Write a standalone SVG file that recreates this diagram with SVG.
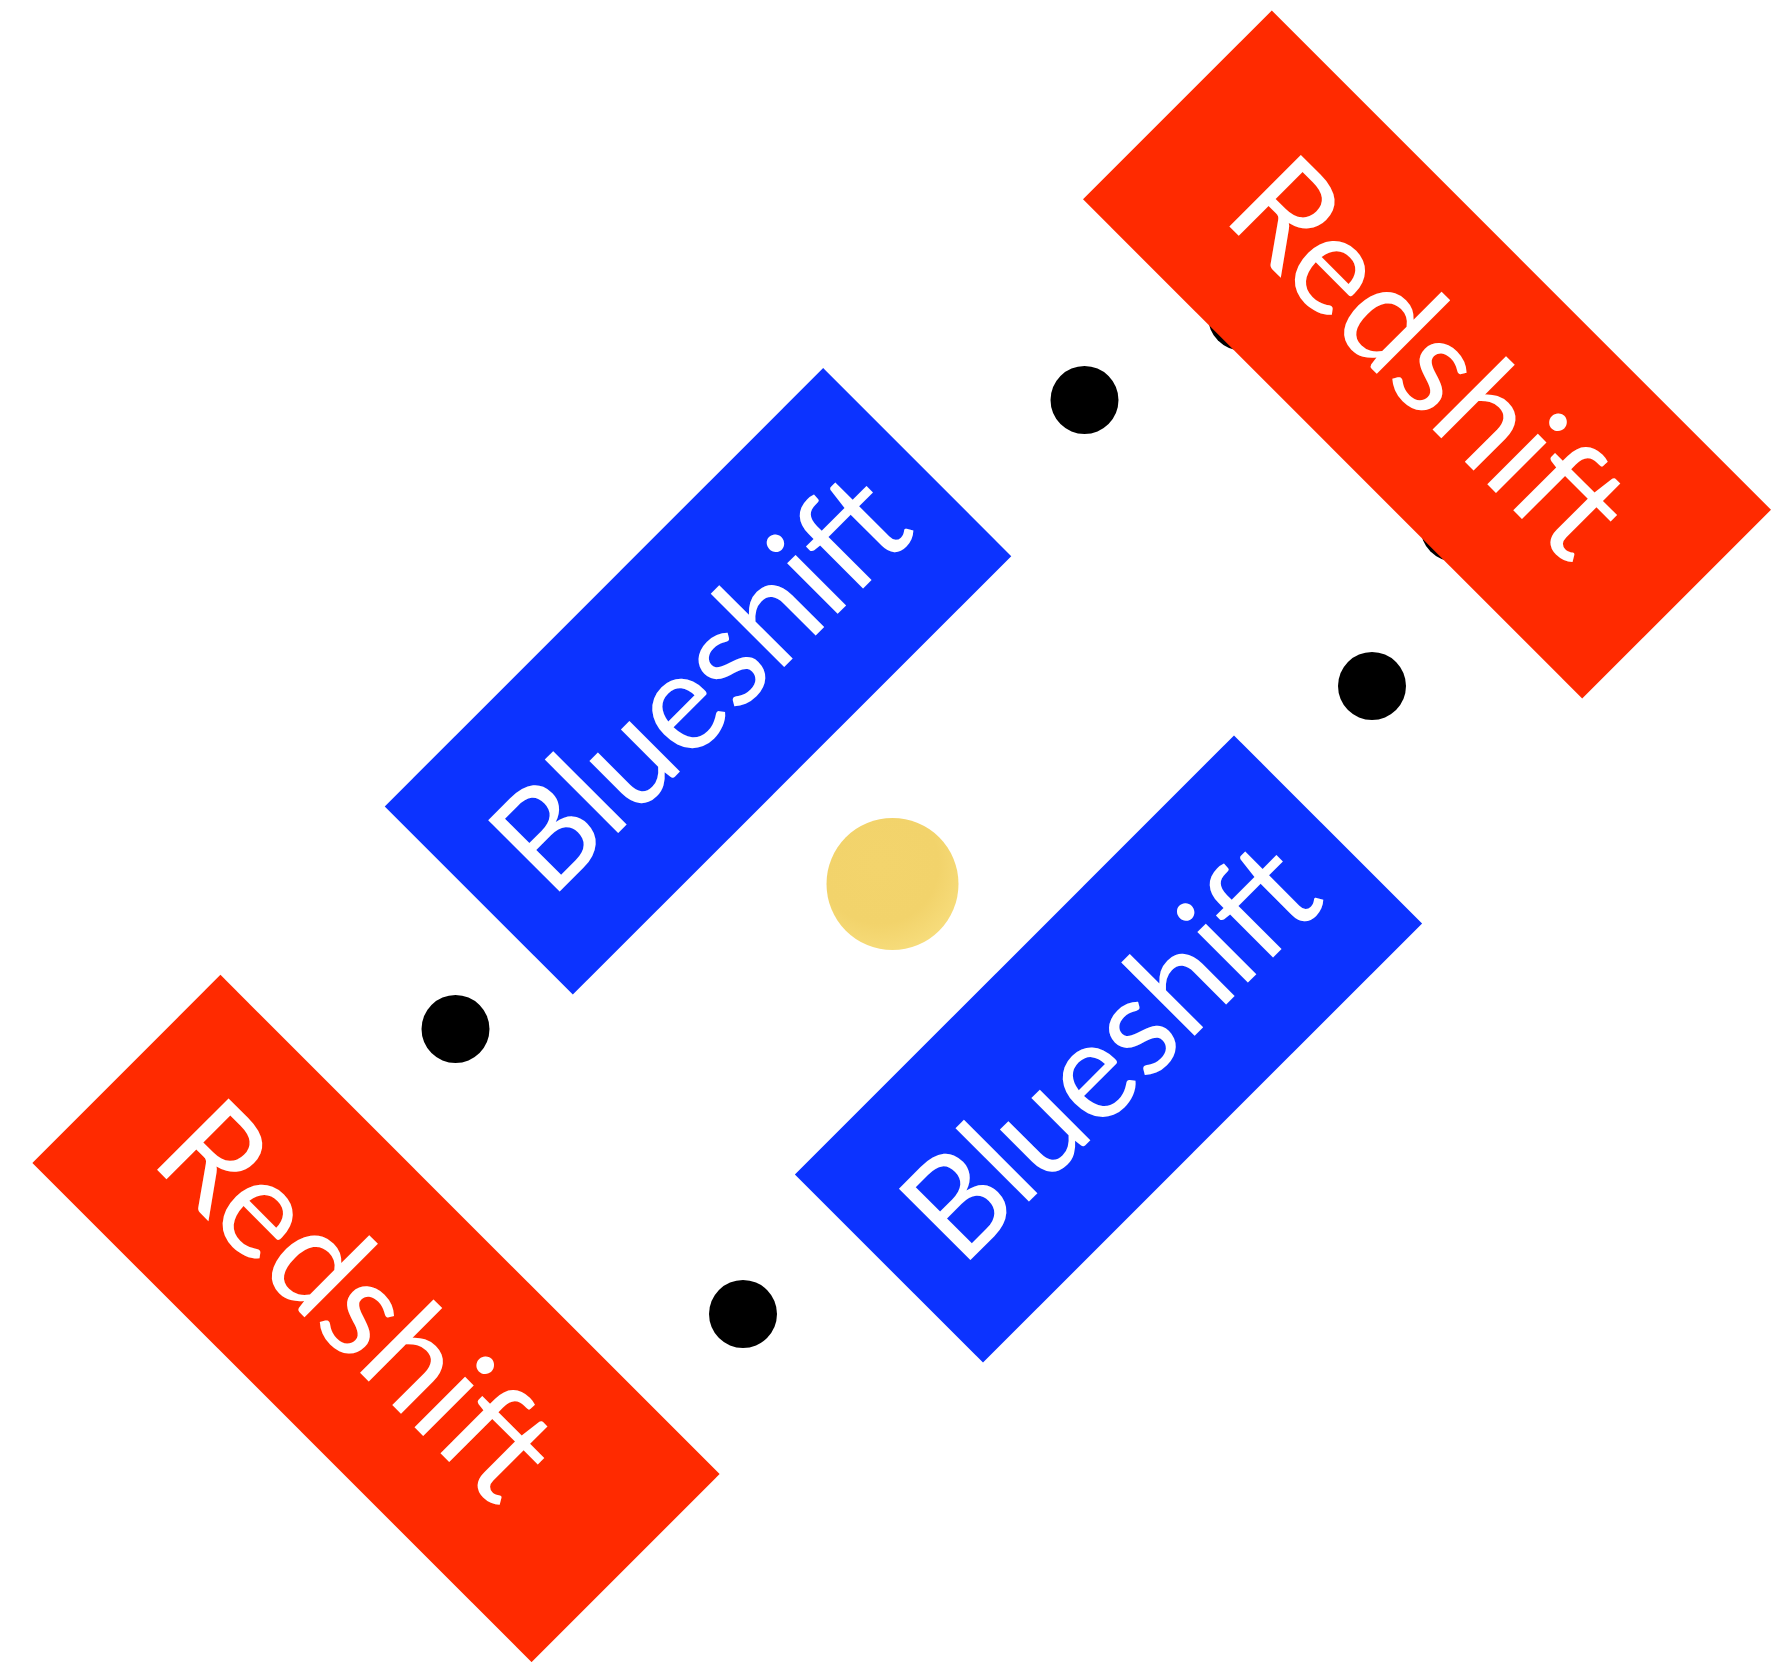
<svg xmlns="http://www.w3.org/2000/svg" width="1771" height="1662" viewBox="0 0 1771 1662">
  <style>
    .dot { fill: #000000; }
    .red { fill: #FF2A00; }
    .blue { fill: #0C33FF; }
    .label { fill: #FFFFFF; font-family: Lato, "Open Sans", "Liberation Sans", sans-serif; font-size: 141px; font-weight: 400; }
  </style>
  <defs>
    <radialGradient id="sunGrad" cx="0.4" cy="0.35" r="0.75">
      <stop offset="0" stop-color="#F3D46C"/>
      <stop offset="0.6" stop-color="#F2D36B"/>
      <stop offset="1" stop-color="#F8DF80"/>
    </radialGradient>
  </defs>
  <rect width="1771" height="1662" fill="#FFFFFF"/>

  <g id="dots">
    <circle class="dot" cx="1242" cy="316.5" r="34"/>
    <circle class="dot" cx="1454.5" cy="527.5" r="34"/>
    <circle class="dot" cx="1084.5" cy="400" r="34"/>
    <circle class="dot" cx="1372" cy="686" r="34"/>
    <circle class="dot" cx="455.5" cy="1029" r="34"/>
    <circle class="dot" cx="743" cy="1314" r="34"/>
  </g>

  <g id="sun">
    <circle cx="892.5" cy="884" r="66" fill="url(#sunGrad)"/>
  </g>

  <g id="redshift-top">
    <rect class="red" x="-353" y="-133.5" width="706" height="267" transform="translate(1427 354.5) rotate(45)"/>
    <text class="label" transform="translate(1220.4 217.4) rotate(45)" textLength="494" lengthAdjust="spacingAndGlyphs">Redshift</text>
  </g>

  <g id="redshift-bottom">
    <rect class="red" x="-353" y="-133" width="706" height="266" transform="translate(376 1318.5) rotate(45)"/>
    <text class="label" transform="translate(148.2 1161.1) rotate(45)" textLength="493" lengthAdjust="spacingAndGlyphs">Redshift</text>
  </g>

  <g id="blueshift-top">
    <rect class="blue" x="-310" y="-133" width="620" height="266" transform="translate(698 681.3) rotate(-45)"/>
    <text class="label" transform="translate(551 900.3) rotate(-45)" textLength="519" lengthAdjust="spacingAndGlyphs">Blueshift</text>
  </g>

  <g id="blueshift-bottom">
    <rect class="blue" x="-310.5" y="-133" width="621" height="266" transform="translate(1108.5 1049) rotate(-45)"/>
    <text class="label" transform="translate(961.8 1268.7) rotate(-45)" textLength="518" lengthAdjust="spacingAndGlyphs">Blueshift</text>
  </g>
</svg>
